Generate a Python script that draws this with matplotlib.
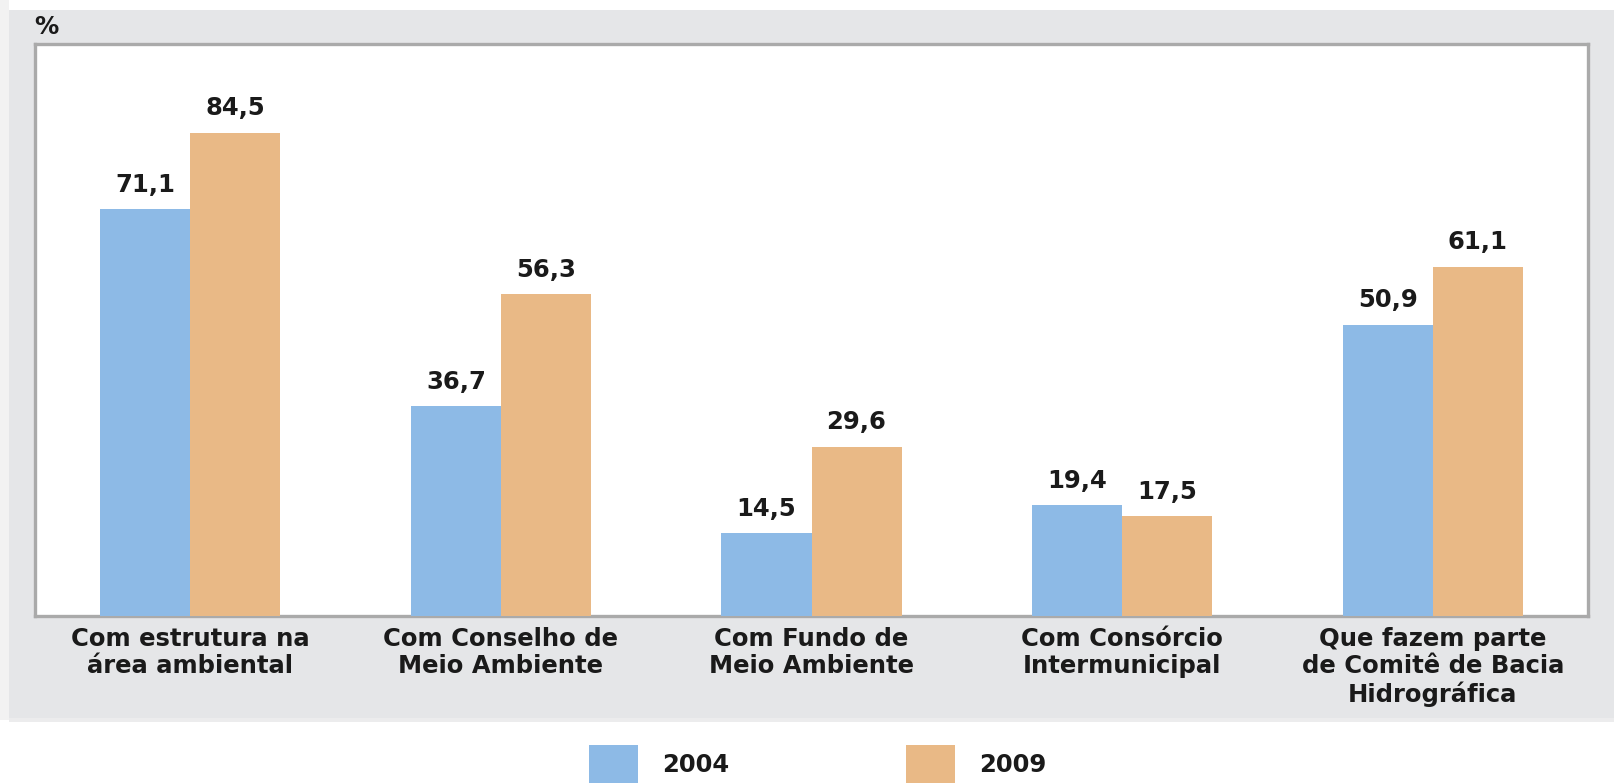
import matplotlib
matplotlib.use("Agg")
import matplotlib.pyplot as plt
from matplotlib.patches import Rectangle
import numpy as np

categories = ["Com estrutura na\nárea ambiental",
              "Com Conselho de\nMeio Ambiente",
              "Com Fundo de\nMeio Ambiente",
              "Com Consórcio\nIntermunicipal",
              "Que fazem parte\nde Comitê de Bacia\nHidrográfica"]
series_names = ["2004", "2009"]
v2004 = [71.1, 36.7, 14.5, 19.4, 50.9]
v2009 = [84.5, 56.3, 29.6, 17.5, 61.1]

W, H = 1614, 783
fig = plt.figure(figsize=(W / 100, H / 100), dpi=100, facecolor="white")
plt.rcParams['font.family'] = ['DejaVu Sans']
FS = 17.5
TXT = "#1a1a1a"
BLUE = "#8dbae6"
ORANGE = "#e9b986"

# background panels
fig.patches.append(Rectangle((0, 1 - 720 / H), 9 / W, 720 / H, transform=fig.transFigure,
                             facecolor="#f2f2f2", edgecolor="none", zorder=-3))
fig.patches.append(Rectangle((9 / W, 1 - 722 / H), 1 - 9 / W, 722 / H - 10 / H,
                             transform=fig.transFigure, facecolor="#ececed",
                             edgecolor="none", zorder=-2))
fig.patches.append(Rectangle((9 / W, 1 - 718 / H), 1 - 9 / W, 718 / H - 10 / H,
                             transform=fig.transFigure, facecolor="#e5e6e8",
                             edgecolor="none", zorder=-1))

left, right, top, bottom = 35 / W, 1588 / W, 1 - 44 / H, 1 - 616 / H
ax = fig.add_axes([left, bottom, right - left, top - bottom], zorder=1)
ax.set_facecolor("white")

x = np.arange(len(categories))
bw = 0.29
b1 = ax.bar(x - bw / 2, v2004, width=bw, color=BLUE, zorder=3, label=series_names[0])
b2 = ax.bar(x + bw / 2, v2009, width=bw, color=ORANGE, zorder=3, label=series_names[1])

for bars, vals in ((b1, v2004), (b2, v2009)):
    for rect, v in zip(bars, vals):
        ax.annotate(f"{v:.1f}".replace(".", ","),
                    xy=(rect.get_x() + rect.get_width() / 2, v),
                    xytext=(0, 12.5), textcoords="offset points",
                    ha="center", va="baseline", fontsize=FS,
                    fontweight="bold", color=TXT)

ax.set_xlim(-0.5, len(categories) - 0.5)
ax.set_ylim(0, 100)
ax.set_yticks([])
ax.set_xticks(x)
ax.set_xticklabels(categories, fontsize=FS, fontweight="bold", color=TXT,
                   linespacing=1.16, ha="center", multialignment="center")
ax.tick_params(axis="x", length=0, pad=8)
for s in ax.spines.values():
    s.set_color("#aaaaaa")
    s.set_linewidth(2.4)
    s.set_zorder(2)

fig.text(34 / W, 1 - 27 / H, "%", fontsize=FS, fontweight="bold", color=TXT,
         ha="left", va="center")

fig.legend(handles=[b1, b2], labels=series_names, loc="center left",
           bbox_to_anchor=(589 / W, 1 - 764 / H), ncol=2, frameon=False,
           prop={"weight": "bold", "size": FS},
           handlelength=2.0, handleheight=2.0, handletextpad=1.0,
           columnspacing=7.3, borderpad=0, borderaxespad=0, labelcolor=TXT)

fig.savefig("out.png", dpi=100, facecolor=fig.get_facecolor())
